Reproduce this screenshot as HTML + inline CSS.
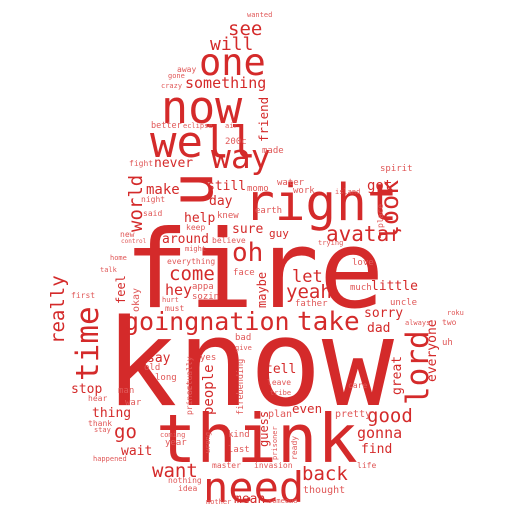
<!DOCTYPE html>
<html><head><meta charset="utf-8"><style>
html,body{margin:0;padding:0;background:#fff;}
svg{display:block;}
text{font-family:"DejaVu Sans Mono","Liberation Mono",monospace;fill:#d42a2a;}
</style></head><body>
<svg id="cloud" width="512" height="512" viewBox="0 0 512 512"></svg>
<script>
// word, font size, x, baseline y, rotated (1 = vertical, reading bottom-to-top)
const words = [
["know",120,105,405,0],["fire",108,124,307,0],["think",67,156,462,0],["right",51,244,220,0],
["now",45,161,123,0],["well",44,150,157,0],["need",42,203,502,0],["one",37,199,75,0],
["way",33,211,168,0],["u",58,212,207,1],["time",31,98,381,1],["lord",31,428,405,1],
["look",25,398,240,1],["goingnation",25,124,330,0],["take",26,297,330,0],["oh",26,232,261,0],
["avatar",21,326,241,0],["really",19,64,344,1],["world",19,142,232,1],["see",19,228,35,0],
["will",18,210,50,0],["come",19,169,280,0],["yeah",19,286,298,0],["let",17,292,282,0],
["want",19,152,477,0],["back",19,302,480,0],["good",19,367,422,0],["go",19,114,438,0],
["hey",15,165,295,0],["something",15,185,88,0],["gonna",15,357,438,0],["people",14,213,415,1],
["make",14,146,194,0],["got",14,367,190,0],["little",13,371,290,0],["sorry",13,364,317,0],
["dad",13,367,332,0],["say",13,147,362,0],["tell",13,265,373,0],["stop",13,71,393,0],
["thing",13,92,417,0],["wait",13,121,455,0],["find",13,361,453,0],["even",12.5,292,413,0],
["mean",13,234,503,0],["never",13,154,167,0],["still",13,207,190,0],["day",13,209,205,0],
["help",13,184,222,0],["sure",13,232,233,0],["around",13,162,243,0],["great",13,401,395,1],
["everyone",13,436,382,1],["maybe",12,266,308,1],["guess",12,268,447,1],["friend",12.5,268,142,1],
["feel",12,125,304,1],["guy",11,269,237,0],["thought",10,303,493,0],["okay",10,139,312,1],
["firebending",8.5,243,415,1],["plan",10,268,417,0],["pretty",10,335,417,0],["kind",9,228,437,0],
["last",9,228,452,0],["year",9,165,445,0],["man",9,118,393,0],["war",9,125,405,0],
["long",9,155,380,0],["old",9,144,370,0],["hear",8,88,401,0],["thank",8,88,426,0],
["master",8,212,468,0],["invasion",8,254,468,0],["life",8,357,468,0],["idea",8,178,491,0],
["nothing",8,168,483,0],["mother",7,206,504,0],["someone",7,268,503,0],["uncle",9,390,305,0],
["always",7,405,325,0],["two",8,442,325,0],["uh",9,442,345,0],["roku",7,447,315,0],
["care",8,348,388,0],["love",9,352,265,0],["much",9,350,290,0],["father",9,295,306,0],
["appa",9,192,289,0],["sozin",9,192,299,0],["face",9,233,275,0],["everything",8,167,264,0],
["bad",9,235,340,0],["give",7,235,350,0],["first",8,71,298,0],["must",8,165,311,0],
["hurt",7,162,302,0],["yes",9,200,360,0],["leave",8,267,385,0],["tribe",7,270,395,0],
["better",8.5,151,128,0],["fight",8,129,166,0],["night",8,141,202,0],["said",8,143,216,0],
["made",9,262,153,0],["200c",9,225,144,0],["earth",9,255,213,0],["momo",9,247,191,0],
["water",9,277,185,0],["work",9,293,193,0],["knew",9,217,218,0],["keep",8,186,230,0],
["believe",8,212,243,0],["away",8,177,72,0],["gone",7,168,78,0],["crazy",7,161,88,0],
["wanted",7,247,17,0],["new",8,120,237,0],["spirit",9,380,171,0],["place",8,383,228,1],
["island",7,335,194,0],["trying",7,318,245,0],["eclipse",7,183,128,0],["air",7,225,128,0],
["might",7,185,251,0],["control",6,121,243,0],["home",7,110,260,0],["talk",7,100,272,0],
["wrong",7,210,453,1],["ready",8,297,460,1],["prince",8,192,415,1],["actually",8,192,395,1],
["prisoner",7,277,460,1],["happened",7,93,461,0],["stay",7,94,432,0],["coming",7,160,437,0]
];
const svg = document.getElementById('cloud');
for (const w of words) {
  const t = document.createElementNS('http://www.w3.org/2000/svg','text');
  
  
  t.setAttribute('font-size', w[1]);
  if (w[1] < 11) t.setAttribute('style', 'fill:#e05858');
  if (w[4]) {
    t.setAttribute('transform', 'translate(' + w[2] + ',' + w[3] + ') rotate(-90)');
  } else {
    t.setAttribute('x', w[2]);
    t.setAttribute('y', w[3]);
  }
  t.textContent = w[0];
  svg.appendChild(t);
}
</script>
</body></html>
